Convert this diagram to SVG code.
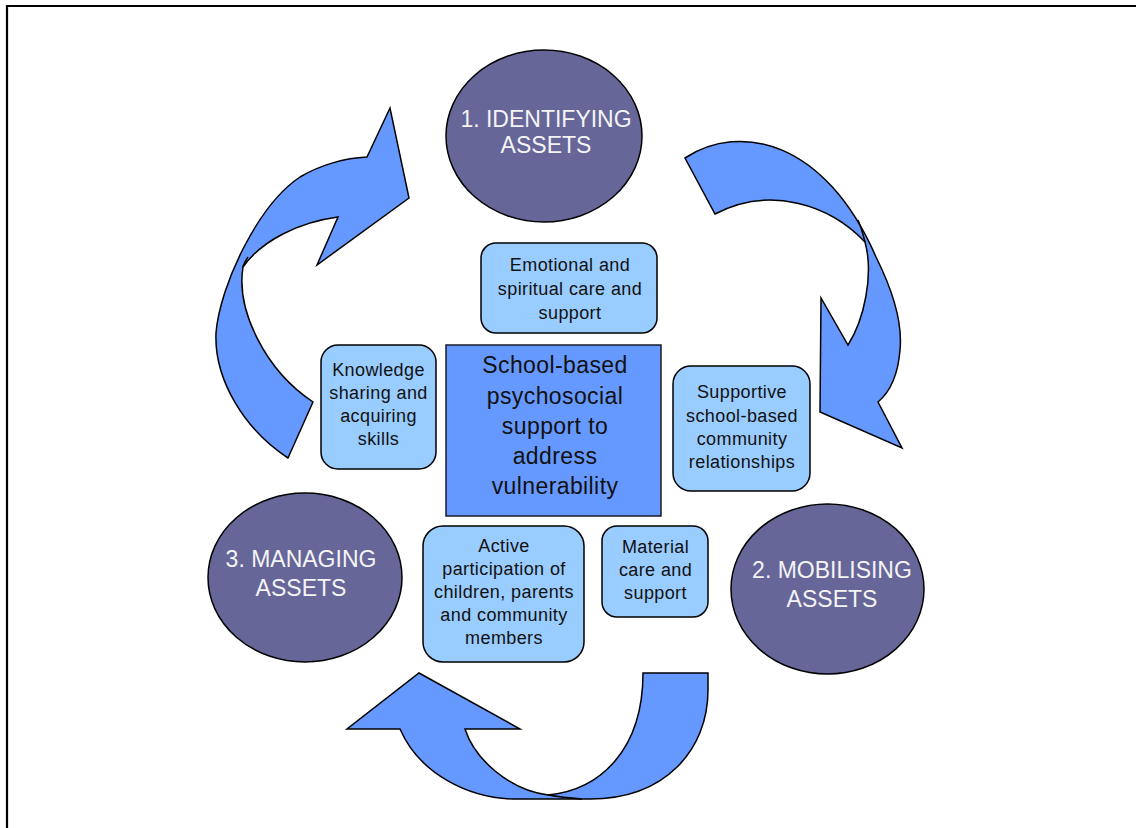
<svg xmlns="http://www.w3.org/2000/svg" width="1136" height="828" viewBox="0 0 1136 828">
<style>
.frame{fill:none;stroke:#000;stroke-width:2.2}
.arrow{fill:#6699ff;stroke:#000;stroke-width:1.5;stroke-linejoin:miter}
.fold{fill:none;stroke:#000;stroke-width:1.5}
.phase{fill:#666699;stroke:#000;stroke-width:1.5}
.phase-t{font-family:"Liberation Sans",Arial,sans-serif;font-size:23px;fill:#f4f4f4;text-anchor:middle}
.box{fill:#99ccff;stroke:#000;stroke-width:1.5}
.box-t{font-family:"Liberation Sans",Arial,sans-serif;font-size:18px;letter-spacing:0.4px;fill:#111;text-anchor:middle}
.core{fill:#6699ff;stroke:#1a1a2a;stroke-width:1.5}
.core-t{font-family:"Liberation Sans",Arial,sans-serif;font-size:23px;letter-spacing:0.4px;fill:#111;text-anchor:middle}
</style>
<path class="frame" d="M7,828 L7,6 L1136,6"/>
<g id="connectors">
  <g id="arrow-identify-to-mobilise">
    <path class="arrow" d="M685,158 C740,122 825,140 876,257 C890,285 903,320 900,350 C898,375 890,392 878,402 L902,448 L820,412 L821,298 L848,345 C864,320 874,275 865,242 C830,205 770,185 715,214 Z"/>
    <path class="fold" d="M865,242 C863,234 861,227 858,220"/>
  </g>
  <g id="arrow-mobilise-to-manage">
    <path class="arrow" d="M643,673 L708,673 L708,690 C708,750 665,799 590,799 L513,799 C470,798 420,775 400,729 L347,729 L419,673 L520,729 L465,729 C475,760 510,790 548,795 C600,790 643,750 643,673 Z"/>
    <path class="fold" d="M548,795 C560,797 570,798 582,799"/>
  </g>
  <g id="arrow-manage-to-identify">
    <path class="arrow" d="M313,402 L288,458 C245,430 214,380 216,333 C220,285 258,205 300,177 C320,165 345,158 367,157 L390,108 L409,198 L317,265 L338,217 C300,222 262,240 243,267 C236,310 265,370 313,402 Z"/>
    <path class="fold" d="M243,267 C244,263 246,260 248,257"/>
  </g>
</g>
<g id="phase-1">
  <ellipse class="phase" cx="544" cy="136" rx="98" ry="86"/>
  <text class="phase-t" x="546" y="127">1. IDENTIFYING</text>
  <text class="phase-t" x="546" y="153">ASSETS</text>
</g>
<g id="phase-2">
  <ellipse class="phase" cx="827.5" cy="589" rx="96.5" ry="85"/>
  <text class="phase-t" x="832" y="578">2. MOBILISING</text>
  <text class="phase-t" x="832" y="607">ASSETS</text>
</g>
<g id="phase-3">
  <ellipse class="phase" cx="305" cy="577.5" rx="97" ry="84.5"/>
  <text class="phase-t" x="301" y="567">3. MANAGING</text>
  <text class="phase-t" x="301" y="596">ASSETS</text>
</g>
<g id="core">
  <rect class="core" x="446" y="345" width="215" height="171"/>
  <text class="core-t" x="555" y="373">School-based</text>
  <text class="core-t" x="555" y="404">psychosocial</text>
  <text class="core-t" x="555" y="434">support to</text>
  <text class="core-t" x="555" y="464">address</text>
  <text class="core-t" x="555" y="494">vulnerability</text>
</g>
<g id="emotional">
  <rect class="box" x="481" y="243" width="176" height="90" rx="15"/>
  <text class="box-t" x="570" y="271">Emotional and</text>
  <text class="box-t" x="570" y="295">spiritual care and</text>
  <text class="box-t" x="570" y="319">support</text>
</g>
<g id="knowledge">
  <rect class="box" x="321" y="345" width="115" height="124" rx="17"/>
  <text class="box-t" x="378.5" y="376">Knowledge</text>
  <text class="box-t" x="378.5" y="399">sharing and</text>
  <text class="box-t" x="378.5" y="422">acquiring</text>
  <text class="box-t" x="378.5" y="445">skills</text>
</g>
<g id="supportive">
  <rect class="box" x="673" y="366" width="137" height="125" rx="18"/>
  <text class="box-t" x="742" y="398">Supportive</text>
  <text class="box-t" x="742" y="421.5">school-based</text>
  <text class="box-t" x="742" y="445">community</text>
  <text class="box-t" x="742" y="467.5">relationships</text>
</g>
<g id="material">
  <rect class="box" x="602" y="526" width="106" height="91" rx="15"/>
  <text class="box-t" x="655.5" y="553">Material</text>
  <text class="box-t" x="655.5" y="576">care and</text>
  <text class="box-t" x="655.5" y="598.5">support</text>
</g>
<g id="active">
  <rect class="box" x="423" y="526" width="161" height="136" rx="20"/>
  <text class="box-t" x="504" y="552">Active</text>
  <text class="box-t" x="504" y="575">participation of</text>
  <text class="box-t" x="504" y="598">children, parents</text>
  <text class="box-t" x="504" y="621">and community</text>
  <text class="box-t" x="504" y="644">members</text>
</g>
</svg>
